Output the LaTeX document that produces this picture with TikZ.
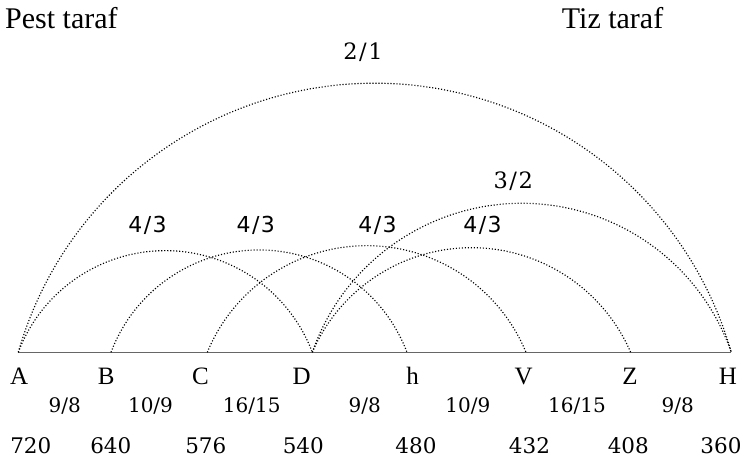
\documentclass[tikz,border=0pt]{standalone}
\usepackage{fontspec}
\setmainfont{Liberation Serif}
\newfontfamily\dvserif{DejaVu Serif}
\newfontfamily\dvsans{DejaVu Sans}
\newcommand\ratioarc[4]{%
  \pgfmathsetmacro\arcA{(#3-#2)/200}%
  \pgfmathsetmacro\arcH{#4/100}%
  \pgfmathsetmacro\arcR{(\arcA*\arcA+\arcH*\arcH)/(2*\arcH)}%
  \pgfmathsetmacro\arcP{asin(\arcA/\arcR)}%
  \draw[arcline] (#1) arc[start angle=90+\arcP, end angle=90-\arcP, radius={\arcR*100pt}];}
\begin{document}
\begin{tikzpicture}[x=1pt,y=1pt,
  arcline/.style={line width=1.15pt, dash pattern=on 1.1pt off 1.9pt, black},
  baseline/.style={line width=1.3pt, black!60},
  title/.style={anchor=base west, inner sep=0pt, font=\fontsize{30}{36}\selectfont},
  pt/.style={anchor=base, inner sep=0pt, font=\fontsize{25}{30}\selectfont},
  stepratio/.style={anchor=base, inner sep=0pt, font=\dvserif\fontsize{20}{24}\selectfont},
  freq/.style={anchor=base, inner sep=0pt, font=\dvserif\fontsize{21.5}{26}\selectfont},
  fourth/.style={anchor=base, inner sep=0pt, font=\dvsans\fontsize{22}{26}\selectfont},
  bigratio/.style={anchor=base, inner sep=0pt, font=\dvserif\fontsize{22.5}{26}\selectfont}]
\useasboundingbox (0,0) rectangle (744,462);
% points on the string
\coordinate (pA) at (18.3,109.7);
\coordinate (pB) at (111,109.7);
\coordinate (pC) at (207.3,109.7);
\coordinate (pD) at (312.3,109.7);
\coordinate (ph) at (407,109.7);
\coordinate (pV) at (526,109.7);
\coordinate (pZ) at (630.7,109.7);
\coordinate (pH) at (731.3,109.7);
\draw[baseline] (pA) -- (pH);
% arcs
\ratioarc{pA}{18.3}{731.3}{269}
\ratioarc{pD}{312.3}{731.3}{149}
\ratioarc{pA}{18.3}{312.3}{101.6}
\ratioarc{pB}{111}{407}{102.3}
\ratioarc{pC}{207.3}{526}{106.6}
\ratioarc{pD}{312.3}{630.7}{104.6}
% titles
\node[title] (tl) at (5,433.7) {Pest taraf};
\node[title] (tr) at (561.7,433.7) {Tiz taraf};
% arc labels
\node[bigratio] (l21) at (363,402.7) {2\kern1.5pt/\kern1.5pt1};
\node[bigratio] (l32) at (513.3,273.7) {3\kern1.5pt/\kern1.5pt2};
\node[fourth] (l43a) at (147.5,229.7) {4\kern1.5pt/\kern1.5pt3};
\node[fourth] (l43b) at (255.8,229.7) {4\kern1.5pt/\kern1.5pt3};
\node[fourth] (l43c) at (377.5,229.7) {4\kern1.5pt/\kern1.5pt3};
\node[fourth] (l43d) at (482.5,229.7) {4\kern1.5pt/\kern1.5pt3};
% point letters
\node[pt] (nA) at (19.2,77) {A};
\node[pt] (nB) at (106.2,77) {B};
\node[pt] (nC) at (200.5,77) {C};
\node[pt] (nD) at (301.7,77) {D};
\node[pt] (nh) at (412.5,77) {h};
\node[pt] (nV) at (523.7,77) {V};
\node[pt] (nZ) at (630,77) {Z};
\node[pt] (nH) at (727.8,77) {H};
% step ratios
\node[stepratio] (s1) at (64.7,49.3) {9/8};
\node[stepratio] (s2) at (150.5,49.3) {10/9};
\node[stepratio] (s3) at (251.7,49.3) {16/15};
\node[stepratio] (s4) at (364.7,49.3) {9/8};
\node[stepratio] (s5) at (467.8,49.3) {10/9};
\node[stepratio] (s6) at (577,49.3) {16/15};
\node[stepratio] (s7) at (677.8,49.3) {9/8};
% string lengths
\node[freq] (f1) at (30.8,8.7) {720};
\node[freq] (f2) at (110.8,8.7) {640};
\node[freq] (f3) at (205.8,8.7) {576};
\node[freq] (f4) at (303.3,8.7) {540};
\node[freq] (f5) at (416,8.7) {480};
\node[freq] (f6) at (529.5,8.7) {432};
\node[freq] (f7) at (628.3,8.7) {408};
\node[freq] (f8) at (721,8.7) {360};
\end{tikzpicture}
\end{document}
